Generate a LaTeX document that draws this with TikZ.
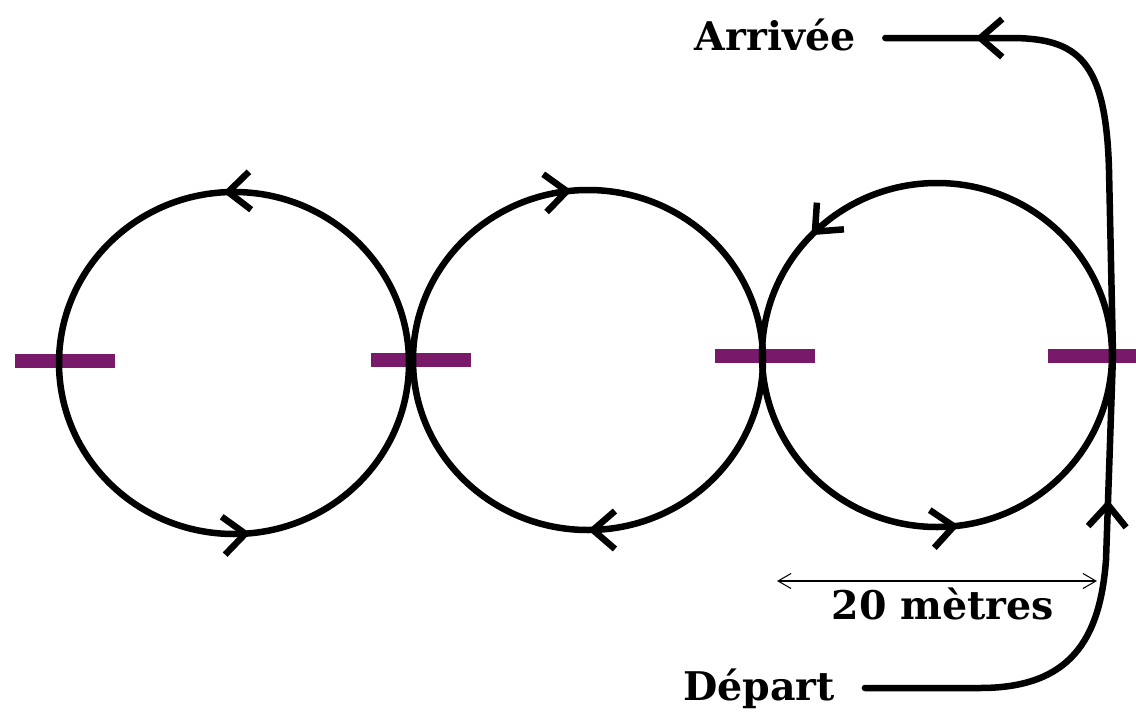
\documentclass[tikz,border=0pt]{standalone}
\usepackage{fontspec}
\setmainfont{DejaVu Serif}
\usetikzlibrary{arrows.meta,decorations.markings}
\definecolor{lane}{RGB}{121,25,105}
\begin{document}
\begin{tikzpicture}[x=0.02cm,y=-0.02cm,
    >={Straight Barb[length=0.44cm,width=0.76cm]},
    track/.style={line width=0.13cm,line cap=round,postaction={decorate}},
    cone/.style={line width=0.28cm,lane},
    dim/.style={line width=0.6pt,<->,>={Straight Barb[length=0.26cm,width=0.3cm]}},
    place/.style={font=\fontsize{22.5}{27}\selectfont\bfseries,inner sep=0pt,
      text height=0.6cm,text depth=0.1cm,outer xsep=0.6cm}]
  \clip (0,0) rectangle (1136,717);

  % plots
  \foreach \x/\y in {65/361,421/360,765/356,1098/356}
    \draw[cone] (\x-50,\y) -- (\x+50,\y);

  \coordinate (c1) at (234,363);
  \coordinate (c2) at (588,360);
  \coordinate (c3) at (937,355);

  \draw[track,decoration={markings,
      mark=at position 0.235 with {\arrowreversed{>}},
      mark=at position 0.74 with {\arrowreversed{>}}}]
    (c1) ellipse[x radius=175,y radius=171];
  \draw[track,decoration={markings,
      mark=at position 0.25 with {\arrow{>}},
      mark=at position 0.735 with {\arrow{>}}}]
    (c2) ellipse[x radius=175,y radius=170];
  \draw[track,decoration={markings,
      mark=at position 0.23 with {\arrowreversed{>}},
      mark=at position 0.622 with {\arrowreversed{>}}}]
    (c3) ellipse[x radius=175,y radius=172];

  \node[place] (depart) at (759,688) {Départ};
  \node[place] (arrivee) at (775,38) {Arrivée};

  \draw[track,decoration={markings,
      mark=at position 7.6cm with {\arrow{>}},
      mark=at position -1.8cm with {\arrow{>}}}]
    (depart.east) -- (980,688) .. controls (1070,688) and (1100,640) .. (1106,560)
    -- (1113,355) -- (1109,170) .. controls (1106,60) and (1078,38) .. (1010,38)
    -- (arrivee.east);

  \coordinate (d1) at (777,581);
  \coordinate (d2) at (1097,581);
  \draw[dim] (d1) -- (d2);
  \node[place,outer xsep=0pt] (dist) at (943,607) {20 mètres};
\end{tikzpicture}
\end{document}
